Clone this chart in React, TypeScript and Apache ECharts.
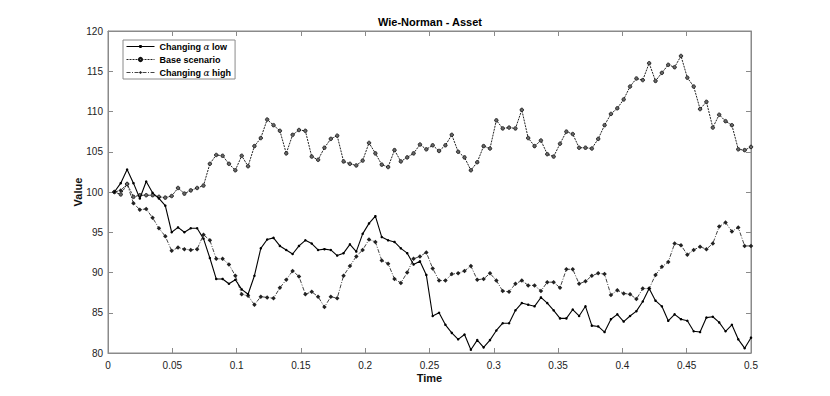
import React, { useEffect, useRef } from 'react';
import * as echarts from 'echarts';

const chartTitle = 'Wie-Norman - Asset';
const xAxisTitle = 'Time';
const yAxisTitle = 'Value';
const seriesNames = ['Changing α low', 'Base scenario', 'Changing α high'];

const timeEnd = 0.5;
const pointCount = 101;

const lowValues = [
  100, 101.1, 102.8, 101.1, 99.2, 101.3, 99.9, 99.2, 98.3, 95.0, 95.6, 95.0, 95.5, 95.5, 94.2, 91.8, 89.2,
  89.2, 88.6, 89.1, 87.9, 87.3, 89.6, 93.0, 94.1, 94.3, 93.3, 92.8, 92.3, 93.3, 94.0, 93.6, 92.8, 92.9,
  92.8, 92.1, 92.4, 93.5, 92.6, 94.8, 96.1, 97.0, 94.4, 94.0, 93.8, 93.0, 92.4, 91.0, 91.4, 89.7, 84.6,
  85.0, 83.5, 82.5, 81.7, 82.3, 80.4, 81.6, 80.7, 81.6, 82.8, 83.7, 83.7, 85.3, 86.2, 86.0, 85.8, 86.9,
  86.2, 85.3, 84.3, 84.3, 85.4, 84.6, 85.8, 83.4, 83.3, 82.6, 84.2, 84.8, 83.9, 84.6, 85.2, 86.4, 88.0,
  86.5, 85.8, 84.0, 84.8, 84.2, 84.0, 82.7, 82.6, 84.4, 84.5, 83.8, 82.7, 83.5, 81.7, 80.6, 81.9,
];

const baseValues = [
  100, 99.7, 101.0, 99.4, 99.6, 99.6, 99.6, 99.4, 99.3, 99.5, 100.5, 99.8, 100.2, 100.5, 100.8, 103.5, 104.6,
  104.5, 103.5, 102.7, 104.5, 103.2, 105.7, 106.7, 109.0, 108.3, 107.6, 104.8, 107.1, 107.7, 107.6, 104.4, 104.0, 105.5,
  106.6, 107.0, 103.8, 103.5, 103.3, 103.9, 106.1, 104.8, 103.4, 103.1, 105.2, 103.8, 104.3, 104.8, 105.9, 105.3, 105.8,
  105.1, 105.8, 107.1, 105.0, 104.3, 102.7, 103.7, 105.7, 105.4, 108.9, 107.9, 108.0, 107.9, 110.2, 106.7, 105.7, 106.4,
  104.7, 104.4, 106.0, 107.5, 107.2, 105.5, 105.5, 105.4, 106.6, 108.3, 109.7, 110.4, 111.5, 113.1, 114.1, 113.9, 116.0,
  113.8, 114.8, 115.8, 115.5, 116.9, 114.2, 113.1, 110.3, 111.2, 108.0, 109.6, 108.8, 108.3, 105.3, 105.2, 105.6,
];

const highValues = [
  100, 100.2, 101.0, 98.6, 97.8, 97.9, 96.8, 95.5, 94.5, 92.7, 93.1, 92.9, 92.8, 92.9, 94.7, 94.0, 91.7,
  91.7, 91.0, 89.6, 87.3, 87.1, 86.0, 87.0, 86.9, 86.8, 88.1, 89.1, 90.2, 89.5, 87.3, 87.6, 87.0, 85.7,
  87.0, 86.8, 89.6, 90.8, 92.0, 92.8, 94.1, 93.8, 91.5, 91.1, 89.2, 88.7, 90.0, 91.7, 92.0, 92.5, 90.5,
  89.0, 89.0, 89.8, 89.9, 90.2, 90.8, 89.1, 89.2, 89.9, 89.0, 87.7, 87.6, 88.6, 89.0, 88.4, 88.4, 87.7,
  88.8, 88.8, 88.1, 90.4, 90.4, 88.6, 88.9, 89.6, 89.9, 89.8, 87.2, 87.8, 87.4, 87.3, 86.7, 88.0, 88.0,
  89.7, 90.7, 91.3, 93.6, 93.4, 92.2, 92.8, 93.2, 92.9, 93.6, 95.7, 96.2, 95.1, 95.6, 93.3, 93.3,
];

const times = lowValues.map((_, i) => ((i + 1) * timeEnd) / pointCount);

const FONT = '"Liberation Sans", Arial, Helvetica, sans-serif';
const AXIS_GRAY = '#8a8a8a';

export default function App() {
  const ref = useRef<HTMLDivElement>(null);

  useEffect(() => {
    if (!ref.current) return;
    const chart = echarts.init(ref.current, null, { renderer: 'svg' });
    const pair = (vals: number[]) => vals.map((v, i) => [times[i], v]);

    const baseAxis = {
      type: 'value',
      axisLine: { show: true, onZero: false, lineStyle: { color: AXIS_GRAY, width: 1 } },
      axisTick: { show: true, inside: true, length: 5, lineStyle: { color: AXIS_GRAY, width: 1 } },
      splitLine: { show: false },
    };

    chart.setOption({
      animation: false,
      backgroundColor: '#ffffff',
      title: {
        text: chartTitle,
        left: 430,
        top: 16,
        padding: 0,
        textAlign: 'center',
        textStyle: { fontFamily: FONT, fontSize: 11, fontWeight: 'bold', color: '#000' },
      },
      grid: {
        left: 108,
        top: 31,
        width: 643,
        height: 322,
        show: true,
        borderColor: AXIS_GRAY,
        borderWidth: 1,
        backgroundColor: 'transparent',
      },
      legend: {
        left: 123,
        top: 40,
        orient: 'vertical',
        itemWidth: 28,
        itemHeight: 4,
        itemGap: 0,
        padding: [0, 4, 0, 3],
        borderColor: AXIS_GRAY,
        borderWidth: 1,
        backgroundColor: '#fff',
        data: seriesNames,
        lineStyle: { width: 1 },
        formatter: (name: string) => name.replace('α', '{g|α}'),
        textStyle: {
          fontFamily: FONT,
          fontSize: 9,
          fontWeight: 'bold',
          color: '#000',
          lineHeight: 13,
          rich: {
            g: { fontFamily: '"DejaVu Serif", serif', fontStyle: 'italic', fontWeight: 'normal', fontSize: 9, color: '#000', lineHeight: 13 },
          },
        },
      },
      xAxis: [
        {
          ...baseAxis,
          position: 'bottom',
          min: 0,
          max: 0.5,
          interval: 0.05,
          axisLabel: {
            show: true,
            color: '#222',
            fontFamily: FONT,
            fontSize: 10,
            margin: 7,
            formatter: (v: number) => String(Number(v.toFixed(2))),
          },
          name: xAxisTitle,
          nameLocation: 'middle',
          nameGap: 19,
          nameMoveOverlap: false,
          nameTextStyle: { fontFamily: FONT, fontSize: 11, fontWeight: 'bold', color: '#111' },
        },
        {
          ...baseAxis,
          position: 'top',
          min: 0,
          max: 0.5,
          interval: 0.05,
          axisLabel: { show: false },
        },
      ],
      yAxis: [
        {
          ...baseAxis,
          position: 'left',
          min: 80,
          max: 120,
          interval: 5,
          axisLabel: { show: true, color: '#222', fontFamily: FONT, fontSize: 10, margin: 5 },
          name: yAxisTitle,
          nameLocation: 'middle',
          nameGap: 25,
          nameMoveOverlap: false,
          nameTextStyle: { fontFamily: FONT, fontSize: 11, fontWeight: 'bold', color: '#111' },
        },
        {
          ...baseAxis,
          position: 'right',
          min: 80,
          max: 120,
          interval: 5,
          axisLabel: { show: false },
        },
      ],
      series: [
        {
          type: 'line',
          name: seriesNames[0],
          data: pair(lowValues),
          xAxisIndex: 0,
          yAxisIndex: 0,
          symbol: 'circle',
          symbolSize: 2.5,
          showSymbol: true,
          lineStyle: { color: '#000', width: 1.1 },
          itemStyle: { color: '#000' },
          z: 4,
        },
        {
          type: 'line',
          name: seriesNames[1],
          data: pair(baseValues),
          xAxisIndex: 0,
          yAxisIndex: 0,
          symbol: 'circle',
          symbolSize: 3.5,
          showSymbol: true,
          lineStyle: { color: '#222', width: 1, type: [2, 1] },
          itemStyle: { color: '#666', borderColor: '#111', borderWidth: 0.8 },
          z: 3,
        },
        {
          type: 'line',
          name: seriesNames[2],
          data: pair(highValues),
          xAxisIndex: 0,
          yAxisIndex: 0,
          symbol: 'diamond',
          symbolSize: 4.5,
          showSymbol: true,
          lineStyle: { color: '#444', width: 1, type: [4, 1.5, 1, 1.5] },
          itemStyle: { color: '#222' },
          z: 2,
        },
      ],
    });

    return () => chart.dispose();
  }, []);

  return (
    <div
      ref={ref}
      style={{ position: 'absolute', left: 0, top: 0, width: 830, height: 396, background: '#fff' }}
    />
  );
}
